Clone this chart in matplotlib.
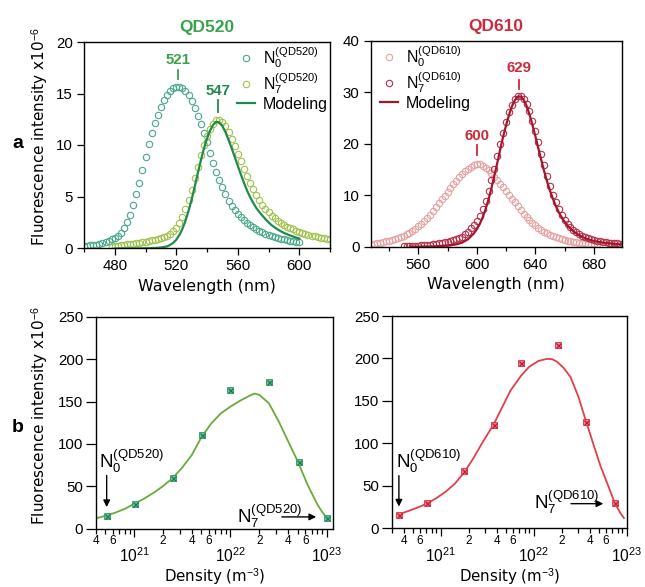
import numpy as np
import matplotlib
matplotlib.use("Agg")
import matplotlib.pyplot as plt
from matplotlib.ticker import MultipleLocator, LogLocator, FuncFormatter

plt.rcParams['font.family'] = ['Liberation Sans', 'DejaVu Sans']
plt.rcParams['mathtext.fontset'] = 'custom'
plt.rcParams['mathtext.rm'] = 'Liberation Sans'
plt.rcParams['mathtext.it'] = 'Liberation Sans:italic'
plt.rcParams['mathtext.bf'] = 'Liberation Sans:bold'

# ---------------- data: QD520 spectra ----------------
wl520_n0 = [460, 462, 464, 466, 468, 470, 472, 474, 476, 478, 480, 482, 484, 486, 488, 490,
            492, 494, 496, 498, 500, 502, 504, 506, 508, 510, 512, 514, 516, 518, 520, 522,
            524, 526, 528, 530, 532, 534, 536, 538, 540, 542, 544, 546, 548, 550, 552, 554,
            556, 558, 560, 562, 564, 566, 568, 570, 572, 574, 576, 578, 580, 582, 584, 586,
            588, 590, 592, 594, 596, 598, 600]
qd520_n0 = [0.20, 0.22, 0.25, 0.28, 0.32, 0.37, 0.45, 0.55, 0.68, 0.85, 0.98, 1.15, 1.45, 1.90,
            2.55, 3.25, 4.15, 5.20, 6.35, 7.60, 8.85, 10.05, 11.15, 12.10, 12.95, 13.70, 14.35,
            14.85, 15.25, 15.50, 15.65, 15.65, 15.50, 15.25, 14.85, 14.30, 13.60, 12.85, 12.05,
            11.15, 10.25, 9.25, 8.25, 7.40, 6.65, 5.90, 5.20, 4.60, 4.10, 3.70, 3.30, 3.00,
            2.70, 2.45, 2.22, 2.00, 1.82, 1.66, 1.52, 1.40, 1.28, 1.18, 1.09, 1.00, 0.92, 0.85,
            0.78, 0.72, 0.66, 0.60, 0.55]

wl520_n7 = [478, 480, 482, 484, 486, 488, 490, 492, 494, 496, 498, 500, 502, 504, 506, 508,
            510, 512, 514, 516, 518, 520, 522, 524, 526, 528, 530, 532, 534, 536, 538, 540,
            542, 544, 546, 548, 550, 552, 554, 556, 558, 560, 562, 564, 566, 568, 570, 572,
            574, 576, 578, 580, 582, 584, 586, 588, 590, 592, 594, 596, 598, 600, 602, 604,
            606, 608, 610, 612, 614, 616, 618, 620]
qd520_n7 = [0.10, 0.15, 0.20, 0.25, 0.30, 0.34, 0.38, 0.42, 0.47, 0.52, 0.57, 0.62, 0.68, 0.74,
            0.80, 0.87, 0.96, 1.07, 1.20, 1.38, 1.62, 1.95, 2.40, 3.00, 3.75, 4.65, 5.65, 6.75,
            7.90, 9.00, 10.00, 10.85, 11.55, 12.05, 12.40, 12.45, 12.20, 11.80, 11.25, 10.60,
            9.90, 9.15, 8.40, 7.65, 6.95, 6.30, 5.70, 5.15, 4.65, 4.20, 3.80, 3.45, 3.15, 2.90,
            2.65, 2.45, 2.25, 2.08, 1.93, 1.80, 1.67, 1.55, 1.45, 1.36, 1.27, 1.19, 1.12, 1.05,
            0.99, 0.94, 0.89, 0.85]

wl520_model = [480, 490, 500, 506, 510, 514, 516, 518, 520, 522, 524, 526, 528, 530, 532, 534,
               536, 538, 540, 542, 544, 546, 548, 550, 552, 554, 556, 558, 560, 562, 564, 566,
               568, 570, 572, 574, 576, 578, 580, 582, 584, 586, 588, 590, 592, 594, 596, 598, 600]
qd520_model = [-0.05, -0.05, -0.03, 0.00, 0.05, 0.15, 0.30, 0.50, 0.80, 1.25, 1.85, 2.65, 3.60,
               4.70, 5.95, 7.25, 8.50, 9.65, 10.60, 11.40, 11.95, 12.25, 12.20, 11.85, 11.25,
               10.50, 9.70, 8.85, 8.00, 7.15, 6.35, 5.60, 4.95, 4.40, 3.90, 3.50, 3.15, 2.80,
               2.50, 2.22, 2.00, 1.80, 1.62, 1.47, 1.34, 1.22, 1.11, 1.01, 0.92]

# ---------------- data: QD610 spectra ----------------
wl610_n0 = [528, 530, 532, 534, 536, 538, 540, 542, 544, 546, 548, 550, 552, 554, 556, 558,
            560, 562, 564, 566, 568, 570, 572, 574, 576, 578, 580, 582, 584, 586, 588, 590,
            592, 594, 596, 598, 600, 602, 604, 606, 608, 610, 612, 614, 616, 618, 620, 622,
            624, 626, 628, 630, 632, 634, 636, 638, 640, 642, 644, 646, 648, 650, 652, 654,
            656, 658, 660, 662, 664, 666, 668, 670, 672, 674, 676, 678, 680, 682]
qd610_n0 = [0.55, 0.62, 0.70, 0.80, 0.92, 1.05, 1.18, 1.32, 1.48, 1.66, 1.88, 2.12, 2.40, 2.72,
            3.08, 3.48, 3.95, 4.45, 5.00, 5.60, 6.25, 6.95, 7.70, 8.45, 9.20, 9.95, 10.70,
            11.45, 12.15, 12.85, 13.50, 14.10, 14.65, 15.15, 15.55, 15.90, 16.05, 16.00, 15.75,
            15.35, 14.85, 14.25, 13.60, 12.95, 12.25, 11.55, 10.85, 10.10, 9.35, 8.60, 7.85,
            7.15, 6.45, 5.80, 5.20, 4.65, 4.15, 3.70, 3.28, 2.90, 2.58, 2.30, 2.05, 1.83, 1.64,
            1.47, 1.32, 1.19, 1.08, 0.98, 0.89, 0.81, 0.74, 0.68, 0.62, 0.57, 0.53, 0.50]

wl610_n7 = [550, 552, 554, 556, 558, 560, 562, 564, 566, 568, 570, 572, 574, 576, 578, 580,
            582, 584, 586, 588, 590, 592, 594, 596, 598, 600, 602, 604, 606, 608, 610, 612,
            614, 616, 618, 620, 622, 624, 626, 628, 630, 632, 634, 636, 638, 640, 642, 644,
            646, 648, 650, 652, 654, 656, 658, 660, 662, 664, 666, 668, 670, 672, 674, 676,
            678, 680, 682, 684, 686, 688, 690, 692, 694, 696, 698, 700]
qd610_n7 = [0.10, 0.12, 0.14, 0.17, 0.20, 0.23, 0.27, 0.31, 0.36, 0.42, 0.48, 0.55, 0.63, 0.73,
            0.85, 0.98, 1.12, 1.27, 1.45, 1.68, 1.98, 2.38, 2.90, 3.55, 4.30, 5.00, 6.00, 7.30,
            8.90, 10.80, 12.90, 15.20, 17.60, 19.90, 22.20, 24.30, 26.10, 27.60, 28.70, 29.30,
            29.30, 28.80, 27.80, 26.30, 24.50, 22.50, 20.30, 18.00, 15.80, 13.70, 11.80, 10.10,
            8.60, 7.30, 6.20, 5.25, 4.45, 3.80, 3.25, 2.78, 2.40, 2.08, 1.82, 1.60, 1.42, 1.27,
            1.14, 1.03, 0.94, 0.86, 0.79, 0.73, 0.68, 0.63, 0.59, 0.55]

wl610_model = [555, 570, 580, 586, 590, 594, 598, 600, 602, 604, 606, 608, 610, 612, 614, 616,
               618, 620, 622, 624, 626, 628, 630, 632, 634, 636, 638, 640, 642, 644, 646, 648,
               650, 652, 654, 656, 658, 660, 662, 664, 666, 668, 670, 672, 674, 676, 678, 680,
               684, 688, 692, 696, 700]
qd610_model = [0.00, 0.05, 0.20, 0.45, 0.80, 1.45, 2.60, 3.40, 4.40, 5.70, 7.30, 9.20, 11.40,
               13.80, 16.30, 18.90, 21.40, 23.60, 25.60, 27.30, 28.50, 29.20, 29.20, 28.60,
               27.40, 25.70, 23.70, 21.50, 19.20, 16.90, 14.70, 12.70, 10.90, 9.30, 7.90, 6.70,
               5.70, 4.85, 4.10, 3.50, 3.00, 2.58, 2.22, 1.92, 1.67, 1.46, 1.28, 1.13, 0.90,
               0.73, 0.60, 0.50, 0.43]

# ---------------- data: density dependence (density as log10 exponent) ----------------
logdens520_pts = [20.717, 21.01, 21.407, 21.708, 22.0, 22.40, 22.71, 23.0]
int520_pts = [15.3, 29.4, 59.6, 110.2, 164.0, 173.0, 78.4, 12.5]
logdens520_fit = [20.60, 20.70, 20.80, 20.90, 21.00, 21.10, 21.20, 21.30, 21.40, 21.50, 21.60,
                  21.70, 21.80, 21.90, 22.00, 22.10, 22.20, 22.25, 22.30, 22.40, 22.50, 22.60,
                  22.70, 22.80, 22.90, 22.95, 23.00]
int520_fit = [11.8, 15.0, 18.5, 23.0, 29.0, 35.0, 42.0, 50.0, 59.5, 72.0, 87.0, 108.0, 124.0,
              136.0, 144.0, 151.0, 157.0, 159.5, 158.0, 148.0, 127.0, 103.0, 79.0, 52.0, 29.0,
              20.0, 12.5]

logdens610_pts = [20.55, 20.855, 21.255, 21.568, 21.867, 22.263, 22.565, 22.874]
int610_pts = [15.3, 29.0, 67.0, 122.0, 195.0, 216.0, 125.0, 29.0]
logdens610_fit = [20.55, 20.65, 20.75, 20.855, 20.95, 21.05, 21.15, 21.255, 21.35, 21.45,
                  21.568, 21.65, 21.75, 21.867, 21.95, 22.05, 22.144, 22.20, 22.252, 22.32,
                  22.396, 22.48, 22.565, 22.65, 22.72, 22.80, 22.874, 22.93, 22.97]
int610_fit = [16.0, 20.0, 24.0, 29.0, 35.0, 42.5, 52.0, 66.0, 82.0, 101.0, 122.0, 140.0,
              162.0, 180.0, 190.0, 197.0, 199.5, 199.0, 196.0, 189.0, 178.0, 155.0, 125.0,
              96.0, 72.5, 50.0, 29.0, 18.0, 11.8]

# ---------------- colours ----------------
c520_n0 = '#4aa88a'
c520_n7 = '#a0c24a'
c520_model = '#1f8a4c'
c520_txt = '#3aa24e'
c610_n0 = '#e8a0a0'
c610_n7 = '#b8304a'
c610_model = '#a3162e'
c610_txt = '#cc2a3c'

W, H = 645, 587
fig = plt.figure(figsize=(W / 100, H / 100), dpi=100)

def box(l, t, r, b):
    return [l / W, 1 - b / H, (r - l) / W, (b - t) / H]

axA1 = fig.add_axes(box(84, 42, 330, 248))
axA2 = fig.add_axes(box(370.7, 41, 621.7, 246.7))
axB1 = fig.add_axes(box(95.7, 317, 333.3, 528.5))
axB2 = fig.add_axes(box(391.7, 316, 626.7, 528))

for ax in (axA1, axA2, axB1, axB2):
    for s in ax.spines.values():
        s.set_linewidth(1.0)
    ax.tick_params(which='both', direction='out', top=False, right=False, labelsize=10.8,
                   width=0.9)
    ax.tick_params(which='major', length=5, pad=3)
    ax.tick_params(which='minor', length=3)

ms = 4.6
mw = 0.8
# ---- panel a, QD520 ----
ax = axA1
ax.plot(wl520_n0, qd520_n0, 'o', ms=ms, mfc='none', mec=c520_n0, mew=mw,
        label=r'N$_0^{\mathrm{(QD520)}}$')
ax.plot(wl520_n7, qd520_n7, 'o', ms=ms, mfc='none', mec=c520_n7, mew=mw,
        label=r'N$_7^{\mathrm{(QD520)}}$')
ax.plot(wl520_model, qd520_model, '-', color=c520_model, lw=1.6, label='Modeling')
ax.set_xlim(460, 620)
ax.set_ylim(0, 20)
ax.xaxis.set_major_locator(MultipleLocator(40))
ax.xaxis.set_minor_locator(MultipleLocator(20))
ax.yaxis.set_major_locator(MultipleLocator(5))
ax.set_title('QD520', color=c520_txt, fontsize=12.5, fontweight='bold', pad=7)
ax.text(521, 18.25, '521', color=c520_txt, ha='center', va='center', fontsize=10.8,
        fontweight='bold')
ax.plot([521, 521], [17.3, 16.4], color=c520_txt, lw=1.3)
ax.text(547, 15.2, '547', color=c520_model, ha='center', va='center', fontsize=10.8,
        fontweight='bold')
ax.plot([547, 547], [14.4, 13.2], color=c520_model, lw=1.3)
ax.legend(loc='upper right', bbox_to_anchor=(1.03, 1.03), frameon=False, fontsize=11.5,
          handlelength=1.1, handletextpad=0.5, labelspacing=0.05, borderaxespad=0.2)

# ---- panel a, QD610 ----
ax = axA2
ax.plot(wl610_n0, qd610_n0, 'o', ms=ms, mfc='none', mec=c610_n0, mew=mw,
        label=r'N$_0^{\mathrm{(QD610)}}$')
ax.plot(wl610_n7, qd610_n7, 'o', ms=ms, mfc='none', mec=c610_n7, mew=mw,
        label=r'N$_7^{\mathrm{(QD610)}}$')
ax.plot(wl610_model, qd610_model, '-', color=c610_model, lw=1.6, label='Modeling')
ax.set_xlim(527.5, 699)
ax.set_ylim(0, 40)
ax.xaxis.set_major_locator(MultipleLocator(40))
ax.xaxis.set_minor_locator(MultipleLocator(20))
ax.yaxis.set_major_locator(MultipleLocator(10))
ax.set_title('QD610', color=c610_txt, fontsize=12.5, fontweight='bold', pad=7)
ax.text(600, 21.46, '600', color=c610_txt, ha='center', va='center', fontsize=10.8,
        fontweight='bold')
ax.plot([600, 600], [19.75, 17.8], color=c610_txt, lw=1.3)
ax.text(629, 34.7, '629', color=c610_txt, ha='center', va='center', fontsize=10.8,
        fontweight='bold')
ax.plot([629, 629], [32.5, 30.6], color=c610_txt, lw=1.3)
ax.legend(loc='upper left', bbox_to_anchor=(0.0, 1.03), frameon=False, fontsize=11.5,
          handlelength=1.1, handletextpad=0.5, labelspacing=0.05, borderaxespad=0.2)

for ax in (axA1, axA2):
    ax.set_xlabel('Wavelength (nm)', family='DejaVu Sans', fontsize=11.4, labelpad=4)

# ---- panel b ----
def major_fmt(x, pos):
    e = int(round(np.log10(x)))
    return r'$10^{%d}$' % e

def minor_fmt(x, pos):
    e = np.floor(np.log10(x) + 1e-9)
    m = int(round(x / 10 ** e))
    return str(m) if m in (2, 4, 6) else ''

def setup_log(ax, xmin, xmax):
    ax.set_xscale('log')
    ax.set_xlim(xmin, xmax)
    ax.set_ylim(0, 250)
    ax.xaxis.set_major_locator(LogLocator(base=10, subs=(1.0,), numticks=10))
    ax.xaxis.set_minor_locator(LogLocator(base=10, subs=np.arange(2, 10), numticks=30))
    ax.xaxis.set_major_formatter(FuncFormatter(major_fmt))
    ax.xaxis.set_minor_formatter(FuncFormatter(minor_fmt))
    ax.yaxis.set_major_locator(MultipleLocator(50))
    ax.tick_params(axis='x', which='major', length=6, pad=7, labelsize=11.2)
    ax.tick_params(axis='x', which='minor', length=3.5, pad=1.5, labelsize=8.5)
    ax.tick_params(axis='y', which='major', length=7, pad=2)
    ax.set_xlabel(r'Density (m$^{-3}$)', family='DejaVu Sans', fontsize=10.8, labelpad=1)

ax = axB1
setup_log(ax, 4e20, 1.17e23)
ax.plot(10 ** np.array(logdens520_fit), int520_fit, '-', color='#6aaa3a', lw=1.3)
ax.plot(10 ** np.array(logdens520_pts), int520_pts, 's', ms=4.2, mfc='#6cc0a0',
        mec='#2a9a6a', mew=0.6)
ax.plot(10 ** np.array(logdens520_pts), int520_pts, 'x', ms=3.6, color='#1a7a4a', mew=0.9)
ax.annotate('', xy=(5.2e20, 22), xytext=(5.2e20, 66),
            arrowprops=dict(arrowstyle='-|>', color='k', lw=1.0, mutation_scale=10))
ax.text(4.3e20, 72, r'N$_0^{\mathrm{(QD520)}}$', fontsize=13.5, ha='left', va='baseline')
ax.annotate('', xy=(8.3e22, 13.7), xytext=(3.2e22, 13.7),
            arrowprops=dict(arrowstyle='-|>', color='k', lw=1.0, mutation_scale=10))
ax.text(1.16e22, 7, r'N$_7^{\mathrm{(QD520)}}$', fontsize=13.5, ha='left', va='baseline')

ax = axB2
setup_log(ax, 2.97e20, 1e23)
ax.plot(10 ** np.array(logdens610_fit), int610_fit, '-', color='#e0404a', lw=1.3)
ax.plot(10 ** np.array(logdens610_pts), int610_pts, 's', ms=4.2, mfc='#f08090',
        mec='#e03040', mew=0.6)
ax.plot(10 ** np.array(logdens610_pts), int610_pts, 'x', ms=3.6, color='#c01830', mew=0.9)
ax.annotate('', xy=(3.55e20, 22), xytext=(3.55e20, 65),
            arrowprops=dict(arrowstyle='-|>', color='k', lw=1.0, mutation_scale=10))
ax.text(3.3e20, 71, r'N$_0^{\mathrm{(QD610)}}$', fontsize=13.5, ha='left', va='baseline')
ax.annotate('', xy=(6.0e22, 28.7), xytext=(2.35e22, 28.7),
            arrowprops=dict(arrowstyle='-|>', color='k', lw=1.0, mutation_scale=10))
ax.text(1.0e22, 22, r'N$_7^{\mathrm{(QD610)}}$', fontsize=13.5, ha='left', va='baseline')

# y labels and panel letters
ylab = r'Fluorescence intensity x10$^{-6}$'
fig.text(40 / W, 1 - 137 / H, ylab, rotation=90, ha='center', va='center',
         family='DejaVu Sans', fontsize=11)
fig.text(40 / W, 1 - 416 / H, ylab, rotation=90, ha='center', va='center',
         family='DejaVu Sans', fontsize=11)
fig.text(18 / W, 1 - 143 / H, 'a', ha='center', va='center', fontsize=14, fontweight='bold')
fig.text(18 / W, 1 - 428 / H, 'b', ha='center', va='center', fontsize=14, fontweight='bold')

fig.savefig('out.png', dpi=100)
